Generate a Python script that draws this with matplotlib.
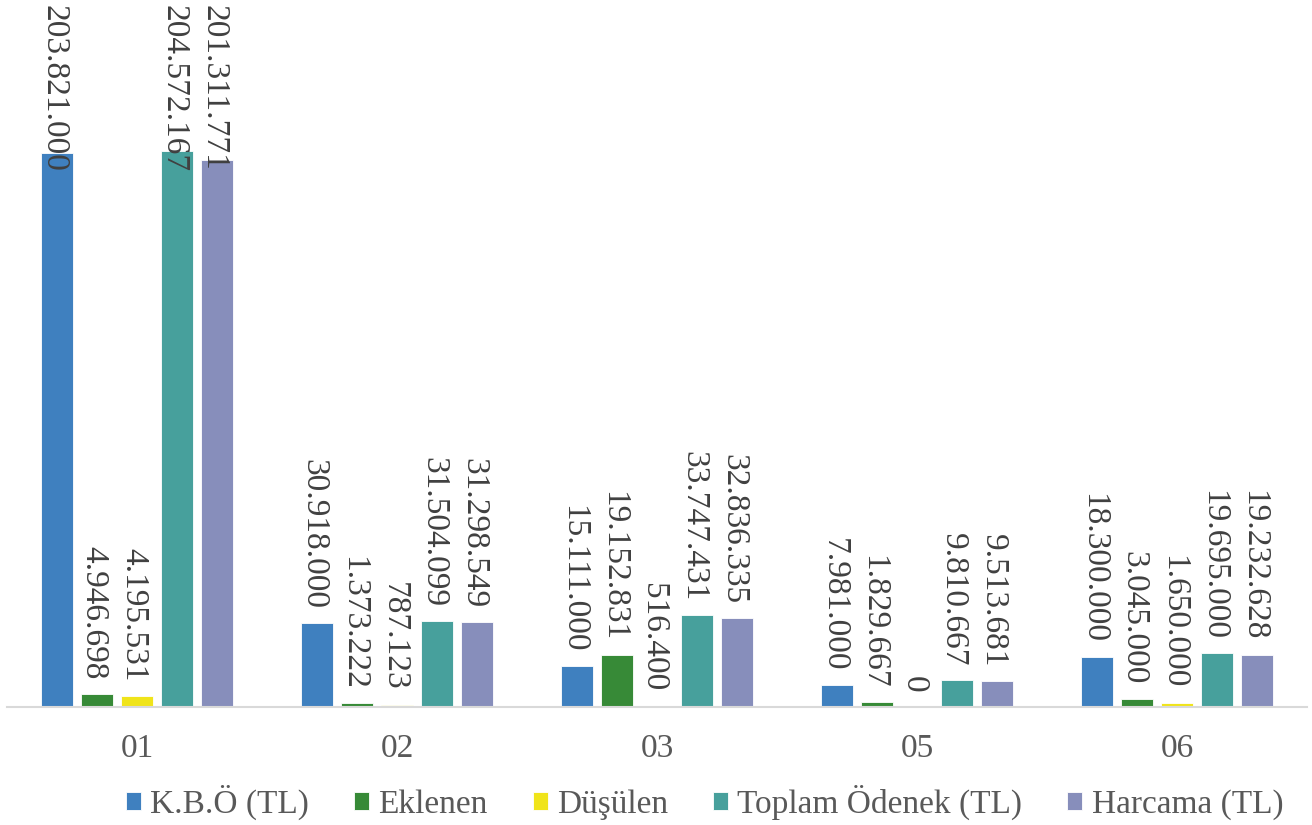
import matplotlib
matplotlib.use('Agg')
import matplotlib.pyplot as plt
import matplotlib.transforms as mtransforms
import numpy as np

plt.rcParams['font.family'] = ['Liberation Serif', 'DejaVu Serif']

categories = ['01', '02', '03', '05', '06']
series_names = ['K.B.Ö (TL)', 'Eklenen', 'Düşülen', 'Toplam Ödenek (TL)', 'Harcama (TL)']
kbo = [203821000, 30918000, 15111000, 7981000, 18300000]
eklenen = [4946698, 1373222, 19152831, 1829667, 3045000]
dusulen = [4195531, 787123, 516400, 0, 1650000]
toplam = [204572167, 31504099, 33747431, 9810667, 19695000]
harcama = [201311771, 31298549, 32836335, 9513681, 19232628]
colors = ['#3f80bf', '#378a37', '#f0e41a', '#47a09c', '#878ebb']

all_series = [kbo, eklenen, dusulen, toplam, harcama]

fig = plt.figure(figsize=(13.12, 8.25), dpi=100)
ax = fig.add_axes([7 / 1312, 118 / 825, 1300 / 1312, 704 / 825])

x = np.arange(len(categories))
pitch = 40 / 260
width = 32 / 260
fs = 24

labels = []
for i, (name, vals, c) in enumerate(zip(series_names, all_series, colors)):
    xs = x + (i - 2) * pitch
    ax.bar(xs, vals, width=width, color=c, edgecolor='white', linewidth=0.6,
           label=name, zorder=2)
    for xi, v in zip(xs, vals):
        txt = '{:,}'.format(v).replace(',', '.')
        t = ax.annotate(txt, (xi, v), xytext=(-2.5, 10), textcoords='offset points',
                        rotation=-90, ha='center', va='bottom', fontsize=fs,
                        color='#404040', zorder=3, annotation_clip=False)
        labels.append((t, xi))

ax.set_xlim(-0.5, len(categories) - 0.5)
ax.set_ylim(0, 259.0e6)
ax.set_xticks(x)
ax.set_xticklabels(categories, fontsize=fs, color='#595959')
ax.tick_params(axis='x', length=0, pad=19)
ax.set_yticks([])
for s in ['top', 'right', 'left']:
    ax.spines[s].set_visible(False)
ax.spines['bottom'].set_color('#d9d9d9')
ax.spines['bottom'].set_linewidth(1.5)

# labels that would run off the top get pinned to the top of the plot area
fig.canvas.draw()
r = fig.canvas.get_renderer()
top = ax.get_window_extent(r).y1
shift = mtransforms.ScaledTranslation(-2.5 / 72, 0, fig.dpi_scale_trans)
trans = mtransforms.blended_transform_factory(ax.transData, ax.transAxes) + shift
for t, xi in labels:
    bb = t.get_window_extent(r)
    if bb.y1 > top - 2:
        t.remove()
        ax.text(xi, 0.997, t.get_text(), transform=trans, rotation=-90,
                ha='center', va='top', fontsize=fs, color='#404040', zorder=3)

leg = fig.legend(loc='center', bbox_to_anchor=(0.537, 0.027), ncol=5,
                 frameon=False, fontsize=fs, handlelength=0.45, handleheight=0.45,
                 handletextpad=0.28, columnspacing=1.35, labelcolor='#595959')

fig.savefig('out.png', dpi=100)
